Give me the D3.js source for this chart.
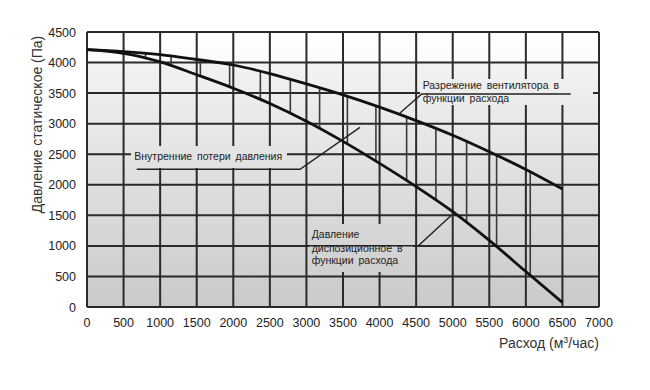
<!DOCTYPE html>
<html>
<head>
<meta charset="utf-8">
<script src="https://cdn.jsdelivr.net/npm/d3@7"></script>
<style>
  body { margin: 0; background: #fff; }
  svg { display: block; font-family: "Liberation Sans", Arial, sans-serif; }
</style>
</head>
<body>
<svg id="chart" width="650" height="390"></svg>
<script>
// flow points (m3/h) and the two curves (Pa)
var flows = [0, 500, 1000, 1500, 2000, 2500, 3000, 3500, 4000, 4500, 5000, 5500, 6000, 6500];
var fanPressure = [4210, 4180, 4130, 4050, 3960, 3820, 3650, 3470, 3270, 3050, 2810, 2540, 2250, 1930];
var availPressure = [4210, 4150, 4010, 3800, 3580, 3330, 3040, 2710, 2350, 1970, 1560, 1090, 580, 75];

// vertical hatch lines between the curves (internal losses)
var hatchFlows = [800, 1150, 1550, 1950, 2370, 2780, 3180, 3560, 3950, 4370, 4770, 5190, 5600, 6060];

var xTicks = [0, 500, 1000, 1500, 2000, 2500, 3000, 3500, 4000, 4500, 5000, 5500, 6000, 6500, 7000];
var yTicks = [0, 500, 1000, 1500, 2000, 2500, 3000, 3500, 4000, 4500];

var w = 650;
var h = 390;

var svg = d3.select("#chart");

var x = d3.scaleLinear().domain([0, 7000]).range([87, 599]);
var y = d3.scaleLinear().domain([0, 4500]).range([307, 32]);

//background gradient, white on top, gray at the bottom//
var defs = svg.append("defs");
var grad = defs.append("linearGradient")
  .attr("id", "bg")
  .attr("gradientUnits", "userSpaceOnUse")
  .attr("x1", 0).attr("x2", 0)
  .attr("y1", y(4500)).attr("y2", y(0));
grad.append("stop").attr("offset", 0).attr("stop-color", "#ffffff");
grad.append("stop").attr("offset", 0.11).attr("stop-color", "#fbfbfb");
grad.append("stop").attr("offset", 0.12).attr("stop-color", "#f2f2f2");
grad.append("stop").attr("offset", 1).attr("stop-color", "#cacaca");

svg.append("rect")
  .attr("x", x(0))
  .attr("y", y(4500))
  .attr("width", x(7000) - x(0))
  .attr("height", y(0) - y(4500))
  .attr("fill", "url(#bg)");

//grid lines//
svg.append("g").selectAll("line")
  .data(xTicks)
  .enter()
  .append("line")
  .attr("x1", function(d) { return x(d); })
  .attr("x2", function(d) { return x(d); })
  .attr("y1", y(0))
  .attr("y2", y(4500))
  .attr("stroke", "#2a2a2a")
  .attr("stroke-width", 2);

svg.append("g").selectAll("line")
  .data(yTicks)
  .enter()
  .append("line")
  .attr("x1", x(0))
  .attr("x2", x(7000))
  .attr("y1", function(d) { return y(d); })
  .attr("y2", function(d) { return y(d); })
  .attr("stroke", "#2a2a2a")
  .attr("stroke-width", 2);

//tick labels//
svg.append("g").selectAll("text")
  .data(xTicks)
  .enter()
  .append("text")
  .attr("x", function(d) { return x(d); })
  .attr("y", 327)
  .attr("text-anchor", "middle")
  .attr("font-size", "12.5px")
  .attr("fill", "#222")
  .text(function(d) { return d; });

svg.append("g").selectAll("text")
  .data(yTicks)
  .enter()
  .append("text")
  .attr("x", 76)
  .attr("y", function(d) { return y(d) + 4.5; })
  .attr("text-anchor", "end")
  .attr("font-size", "12.5px")
  .attr("fill", "#222")
  .text(function(d) { return d; });

//axis titles//
svg.append("text")
  .attr("transform", "translate(42," + ((y(0) + y(4500)) / 2 - 45) + ") rotate(-90)")
  .attr("text-anchor", "middle")
  .attr("font-size", "14px")
  .attr("fill", "#333")
  .text("Давление статическое (Па)");

var xt = svg.append("text")
  .attr("x", x(7000))
  .attr("y", 348)
  .attr("text-anchor", "end")
  .attr("font-size", "14px")
  .attr("fill", "#333");
xt.append("tspan").text("Расход (м");
xt.append("tspan").attr("font-size", "9px").attr("dy", -5).text("3");
xt.append("tspan").attr("dy", 5).text("/час)");

//label knockouts, they hide the grid behind the labels//
var knockouts = [
  {x0: 602, x1: 2734, y0: 2275, y1: 2634},
  {x0: 4553, x1: 6918, y0: 3306, y1: 3731},
  {x0: 3035, x1: 4457, y0: 573, y1: 1358}
];
svg.append("g").selectAll("rect")
  .data(knockouts)
  .enter()
  .append("rect")
  .attr("x", function(d) { return x(d.x0); })
  .attr("y", function(d) { return y(d.y1); })
  .attr("width", function(d) { return x(d.x1) - x(d.x0); })
  .attr("height", function(d) { return y(d.y0) - y(d.y1); })
  .attr("fill", "url(#bg)");

//hatch lines, ends found by interpolating both curves//
function at(arr, q) {
  var i = Math.min(Math.floor(q / 500), flows.length - 2);
  var t = (q - flows[i]) / 500;
  return arr[i] + (arr[i + 1] - arr[i]) * t;
}

svg.append("g").selectAll("line")
  .data(hatchFlows)
  .enter()
  .append("line")
  .attr("x1", function(d) { return x(d); })
  .attr("x2", function(d) { return x(d); })
  .attr("y1", function(d) { return y(at(fanPressure, d)); })
  .attr("y2", function(d) { return y(at(availPressure, d)); })
  .attr("stroke", "#3a3a3a")
  .attr("stroke-width", 1.6);

//the two curves//
var line = d3.line()
  .x(function(d, i) { return x(flows[i]); })
  .y(function(d) { return y(d); })
  .curve(d3.curveMonotoneX);

[fanPressure, availPressure].forEach(function(s) {
  svg.append("path")
    .attr("d", line(s))
    .attr("fill", "none")
    .attr("stroke", "#111")
    .attr("stroke-width", 2.8);
});

//annotations with leader lines//
var notes = [
  {lines: ["Внутренние потери давления"], tx: 647, ty: [2405],
   leader: [[680, 2253], [2912, 2253], [3732, 2940]]},
  {lines: ["Разрежение вентилятора в", "функции расхода"], tx: 4590, ty: [3562, 3350],
   leader: [[6613, 3485], [4576, 3485], [4279, 3175]]},
  {lines: ["Давление", "диспозиционное в", "функции расхода"], tx: 3072, ty: [1124, 905, 704],
   leader: [[2980, 1003], [4530, 1003], [4986, 1505]]}
];

var leader = d3.line()
  .x(function(d) { return x(d[0]); })
  .y(function(d) { return y(d[1]); });

notes.forEach(function(n) {
  svg.append("path")
    .attr("d", leader(n.leader))
    .attr("fill", "none")
    .attr("stroke", "#222")
    .attr("stroke-width", 1.4);
  n.lines.forEach(function(t, i) {
    svg.append("text")
      .attr("x", x(n.tx))
      .attr("y", y(n.ty[i]))
      .attr("font-size", "10.5px")
      .attr("word-spacing", "2px")
      .attr("fill", "#222")
      .text(t);
  });
});
</script>
</body>
</html>
